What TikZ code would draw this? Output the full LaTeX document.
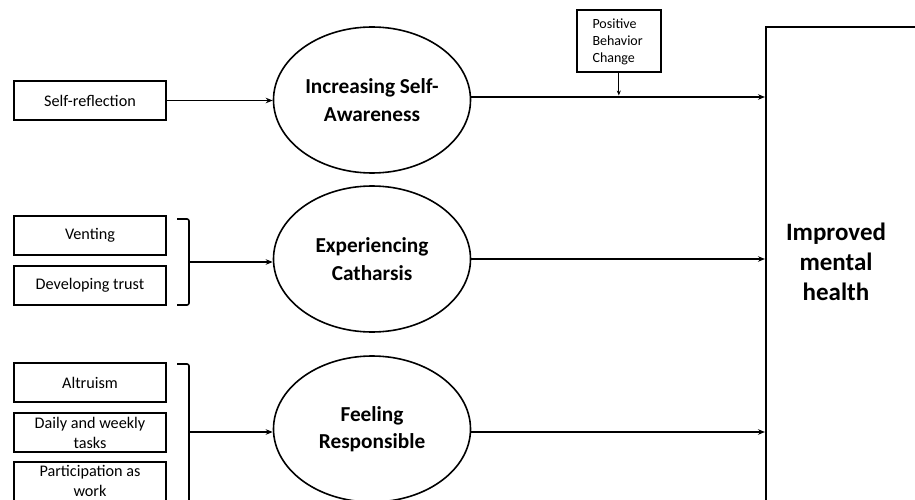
\documentclass[tikz,border=0pt]{standalone}
\usepackage{fontspec}
\setmainfont{Carlito}
\usetikzlibrary{arrows.meta,shapes.geometric}
\begin{document}
\begin{tikzpicture}[x=1pt,y=-1pt,
  inbox/.style={draw,line width=1.6pt,minimum width=152pt,minimum height=39pt,inner sep=1pt,align=center,font=\fontsize{16.2}{20}\selectfont},
  mideli/.style={draw,ellipse,line width=1.6pt,minimum width=197pt,minimum height=146pt,inner sep=0pt,align=center,font=\bfseries\fontsize{21.3}{27.5}\selectfont},
  arr/.style={line width=1.6pt,-{Stealth[length=7pt,width=5.5pt]}},
  brk/.style={line width=1.6pt,rounded corners=2pt}]
\useasboundingbox (0,0) rectangle (915,500);
\fill[white] (0,0) rectangle (915,500);
\clip (0,0) rectangle (915,500);

% left boxes
\node[inbox] (sr) at (90,100.5) {Self-reflection};
\node[inbox] (ven) at (90,235.5) {Venting};
\node[inbox] (dev) at (90,285.5) {Developing trust};
\node[inbox] (alt) at (90,382.5) {Altruism};
\node[inbox] (daily) at (90,432.5) {Daily and weekly\\tasks};
\node[inbox,minimum height=45pt] (part) at (90,484.5) {};
\node[font=\fontsize{16.2}{20}\selectfont,align=center] (partt) at (90,481) {Participation as\\work};

% ellipses
\node[mideli] (e1) at (372,100) {Increasing Self-\\Awareness};
\node[mideli] (e2) at (372,259) {Experiencing\\Catharsis};
\node[mideli] (e3) at (372,429) {Feeling\\Responsible};

% outcome box
\node[draw,line width=1.6pt,anchor=north west,minimum width=150pt,minimum height=500pt,inner sep=0pt] (imh) at (765,26) {};
\node[font=\bfseries\fontsize{25}{30}\selectfont,align=center] (imht) at (836,262) {Improved\\mental\\health};

% positive behavior change
\node[draw,line width=1.6pt,minimum width=84pt,minimum height=62pt,inner sep=0pt,anchor=north west] (pbc) at (576,9) {};
\node[font=\fontsize{14}{17}\selectfont,align=left,anchor=west] (pbct) at (589,42) {Positive\\Behavior\\Change};

% brackets
\draw[brk] (177,219) -- (189,219) -- (189,305) -- (177,305);
\coordinate (b2) at (189,262);
\draw[brk] (177,364) -- (189,364) -- (189,510);
\coordinate (b3) at (189,432);

% connectors
\draw[arr] (sr.east) -- (sr.east -| e1.west);
\draw[arr] (b2) -- (b2 -| e2.west);
\draw[arr] (b3) -- (b3 -| e3.west);
\draw[arr] (e1.east |- 0,97) -- (imh.west |- 0,97);
\draw[arr] (e2.east) -- (e2.east -| imh.west);
\draw[arr] (e3.east |- 0,432) -- (imh.west |- 0,432);
\draw[line width=1pt,-{Stealth[length=5pt,width=4pt]}] (pbc.south) -- (pbc.south |- 0,95.5);
\end{tikzpicture}
\end{document}
